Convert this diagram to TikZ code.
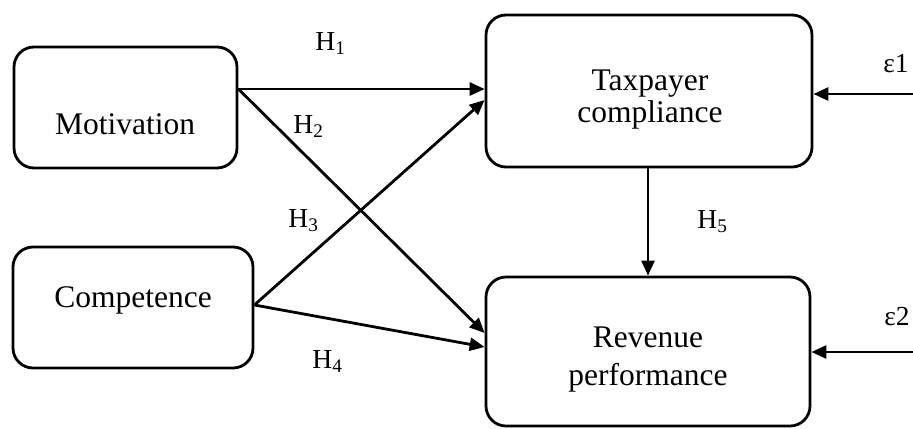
\documentclass[tikz,border=0pt]{standalone}
\usepackage{fontspec}
\setmainfont{Liberation Serif}
\usetikzlibrary{arrows.meta}
\begin{document}
\begin{tikzpicture}[x=0.5pt,y=-0.5pt,
  box/.style={draw,line width=1.4pt,rounded corners=10pt,inner sep=0pt},
  arr/.style={line width=1.4pt,-{Triangle[length=7.5pt,width=6.5pt]}},
  big/.style={font=\fontsize{15.75}{18}\selectfont,inner sep=0pt,anchor=base},
  lab/.style={font=\fontsize{13.75}{16}\selectfont,inner sep=0pt,anchor=base west}]
\useasboundingbox (0,0) rectangle (913,428);
% boxes
\node[box,minimum width=111.5pt,minimum height=60.5pt] (mot) at (125.5,107.5) {};
\node[box,minimum width=120pt,minimum height=60.5pt] (comp) at (133,307.5) {};
\node[box,minimum width=163pt,minimum height=76pt] (tax) at (649,91) {};
\node[box,minimum width=162pt,minimum height=74.5pt] (rev) at (648,351.5) {};
% box texts
\node[big] (tmot) at (125,134) {Motivation};
\node[big] (tcomp) at (133,307) {Competence};
\node[big] (ttax1) at (650,90) {Taxpayer};
\node[big] (ttax2) at (650,122) {compliance};
\node[big] (trev1) at (648,347) {Revenue};
\node[big] (trev2) at (648,385) {performance};
% error terms
\coordinate (e1) at (913,94);
\coordinate (e2) at (913,352);
% connectors
\draw[arr] (mot.east |- 0,89) -- (tax.west |- 0,89);
\draw[arr] (mot.east |- 0,89) -- (rev.west |- 0,333);
\draw[arr] (comp.east |- 0,305) -- (tax.west |- 0,100);
\draw[arr] (comp.east |- 0,305) -- (rev.west |- 0,347);
\draw[arr] (tax.south -| 648,0) -- (rev.north -| 648,0);
\draw[arr] (e1) -- (tax.east |- e1);
\draw[arr] (e2) -- (rev.east |- e2);
% labels
\node[lab] (h1) at (315,50) {H\textsubscript{1}};
\node[lab] (h2) at (293,133) {H\textsubscript{2}};
\node[lab] (h3) at (288,227) {H\textsubscript{3}};
\node[lab] (h4) at (312,368) {H\textsubscript{4}};
\node[lab] (h5) at (697,228) {H\textsubscript{5}};
\node[lab] (l1) at (883,72) {ε1};
\node[lab] (l2) at (884,325) {ε2};
\end{tikzpicture}
\end{document}
